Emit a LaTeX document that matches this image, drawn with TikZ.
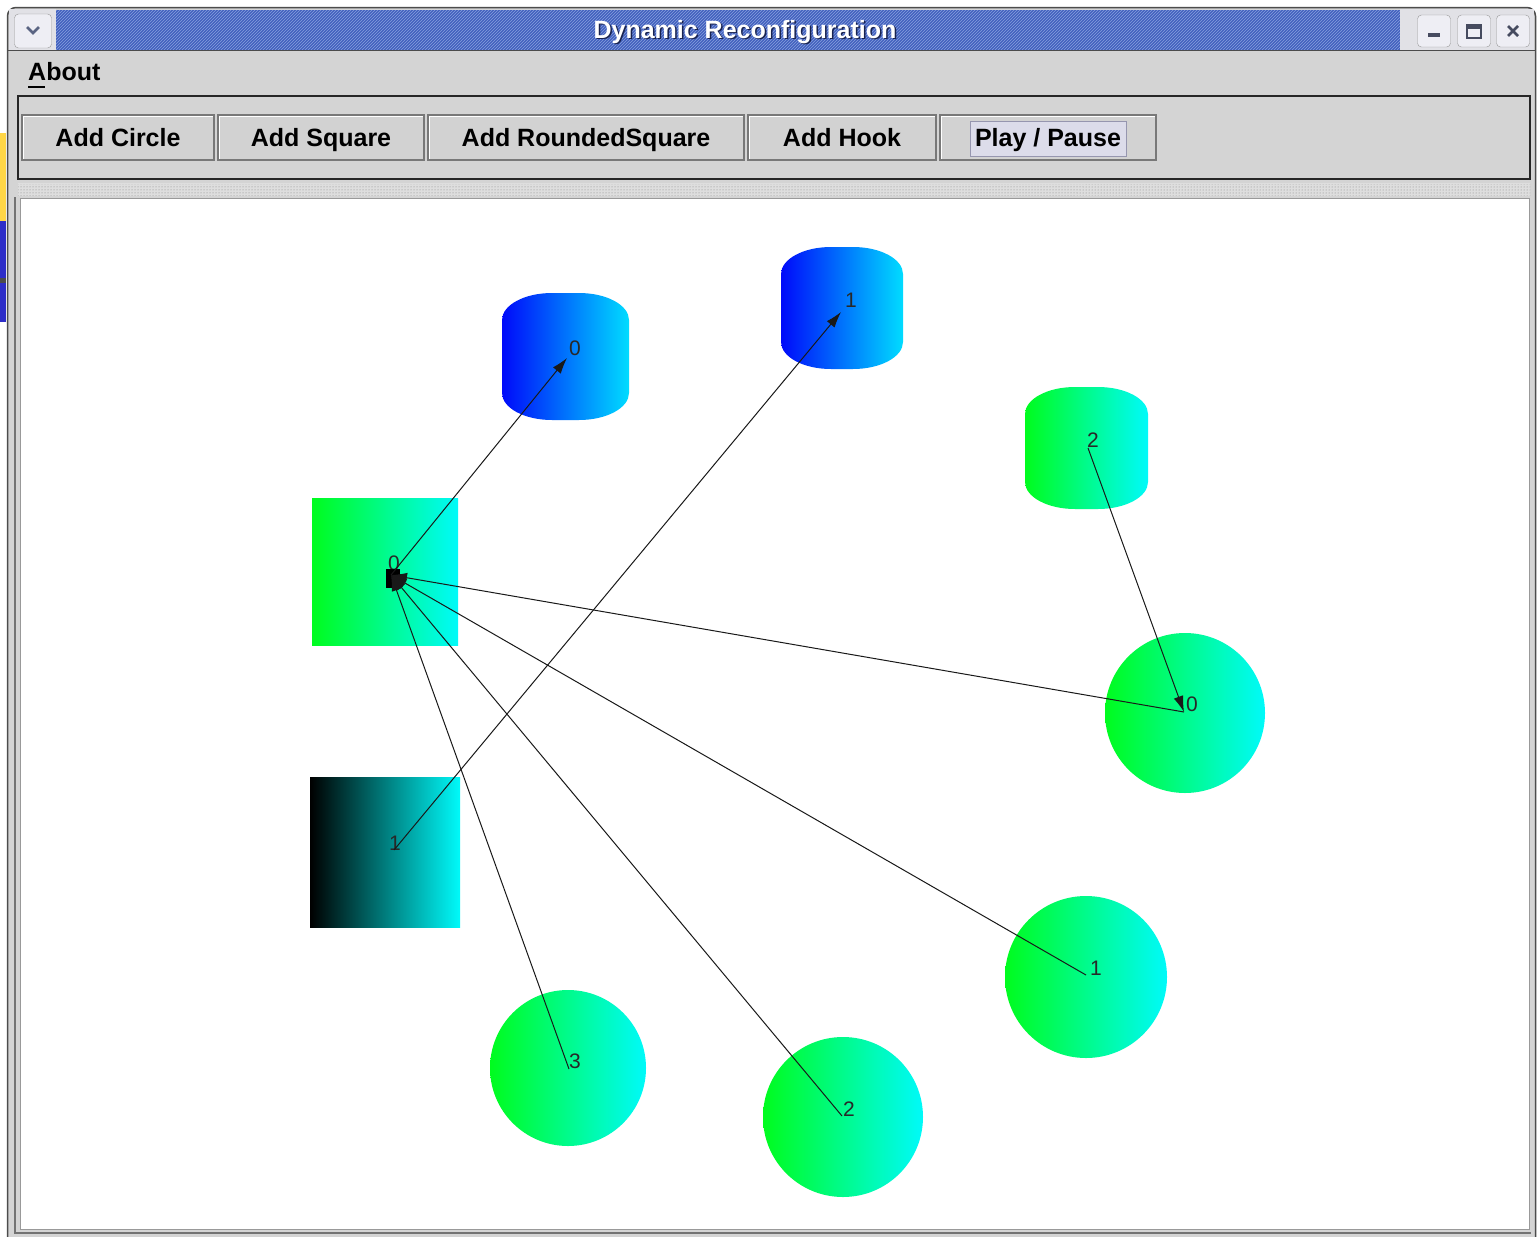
\documentclass[tikz,border=0pt]{standalone}
\usepackage{fontspec}
\setmainfont{Liberation Sans}
\usetikzlibrary{arrows.meta,patterns}
\definecolor{wingray}{RGB}{212,212,212}
\definecolor{titleblue}{RGB}{66,96,190}
\definecolor{titlestripe}{RGB}{135,160,222}
\definecolor{titleshadow}{RGB}{25,35,80}
\definecolor{btnfill}{RGB}{210,210,210}
\definecolor{btnline}{RGB}{120,120,120}
\definecolor{focusfill}{RGB}{220,220,234}
\definecolor{focusline}{RGB}{150,150,175}
\definecolor{sepfill}{RGB}{222,222,222}
\definecolor{tbgray}{RGB}{225,225,230}
\definecolor{tbbtn}{RGB}{238,238,244}
\definecolor{tbicon}{RGB}{70,75,95}
\definecolor{chev}{RGB}{90,100,130}
\definecolor{stripY}{RGB}{255,214,70}
\definecolor{stripB}{RGB}{45,45,200}
\definecolor{gA}{RGB}{0,252,30}
\definecolor{gB}{RGB}{0,250,250}
\definecolor{bA}{RGB}{0,10,250}
\definecolor{bB}{RGB}{0,220,255}
\definecolor{lblcol}{RGB}{40,40,40}
% x0 y0 x1 y1 ; rx=50, ry=27
\newcommand\rsqpath[4]{({#1+50},#2) -- ({#3-50},#2) .. controls ({#3-22.4},#2) and (#3,{#2+12.1}) .. (#3,{#2+27}) -- (#3,{#4-27}) .. controls (#3,{#4-12.1}) and ({#3-22.4},#4) .. ({#3-50},#4) -- ({#1+50},#4) .. controls ({#1+22.4},#4) and (#1,{#4-12.1}) .. (#1,{#4-27}) -- (#1,{#2+27}) .. controls (#1,{#2+12.1}) and ({#1+22.4},#2) .. ({#1+50},#2) -- cycle}
\tikzset{
  btn/.style={draw=btnline, fill=btnfill, line width=1.2pt, minimum height=45pt, inner sep=0pt,
    font=\fontsize{25}{30}\selectfont\bfseries, text=black, text height=18pt, text depth=5pt},
  tbbutton/.style={draw=black!40, fill=tbbtn, rounded corners=4pt, minimum width=33pt, minimum height=32pt, inner sep=0pt},
  lbl/.style={font=\fontsize{21}{24}\selectfont, text=lblcol, inner sep=0pt},
  conn/.style={draw=black!90, line width=1pt, -{Latex[length=16pt,width=10pt]}},
  greenfill/.style={left color=gA, right color=gB},
  bluefill/.style={left color=bA, right color=bB},
  darkfill/.style={left color=black, right color=gB},
}
\begin{document}
\begin{tikzpicture}[x=1pt,y=-1pt]
\useasboundingbox (0,0) rectangle (1537,1237);
\fill[white] (0,0) rectangle (1537,1237);
% stray strips at left edge
\fill[stripY] (0,133) rectangle (6,221);
\fill[stripB] (0,221) rectangle (6,322);
\fill[black!70] (0,278) rectangle (6,283);
% window body
\fill[wingray] (8,1237) -- (8,16) arc[start angle=180,end angle=270,radius=8] -- (1527,8) arc[start angle=270,end angle=360,radius=8] -- (1535,1237) -- cycle;
\draw[black!70, line width=1.5pt] (7.5,1237) -- (7.5,16) arc[start angle=180,end angle=270,radius=8.5] -- (1527,7.5) arc[start angle=270,end angle=360,radius=8.5] -- (1535.5,1237);
% title bar
\fill[titleblue] (56,10) rectangle (1400,50);
\fill[pattern=north east lines, pattern color=titlestripe] (56,10) rectangle (1400,50);
\fill[tbgray] (9,9) rectangle (56,50);
\fill[tbgray] (1400,9) rectangle (1534,50);
\draw[black!70, line width=1.5pt] (8,50.5) -- (1535,50.5);
% title bar buttons
\node[tbbutton, minimum width=37pt, minimum height=34pt] (menuBtn) at (33,31) {};
\draw[chev, line width=2.5pt] (27,27) -- (33,33) -- (39,27);
\node[tbbutton] (minBtn) at (1434,31) {};
\node[tbbutton] (maxBtn) at (1474,31) {};
\node[tbbutton] (closeBtn) at (1513,31) {};
\fill[tbicon] (1428,33) rectangle (1440,37);
\draw[tbicon, line width=1.5pt] (1467,25) rectangle (1481,38);
\fill[tbicon] (1467,25) rectangle (1481,29);
\draw[tbicon, line width=2.8pt] (1508,26) -- (1518,36) (1508,36) -- (1518,26);
% title text
\node[font=\fontsize{25}{30}\selectfont\bfseries, text=titleshadow] at (746.5,33.5) {Dynamic Reconfiguration};
\node[font=\fontsize{25}{30}\selectfont\bfseries, text=white] (title) at (745,32) {Dynamic Reconfiguration};
% menu
\node[font=\fontsize{25}{30}\selectfont\bfseries, anchor=west, inner sep=0pt] (about) at (28,72) {About};
\draw[black, line width=1.5pt] (28,87) -- (45,87);
% toolbar
\draw[black!85, line width=2.5pt, fill=wingray] (18,96) rectangle (1530,179);
\node[btn, minimum width=192pt] (bCircle) at (118,137.5) {};
\node[btn, minimum width=206pt] (bSquare) at (321,137.5) {};
\node[btn, minimum width=316pt] (bRound) at (586,137.5) {};
\node[btn, minimum width=188pt] (bHook) at (842,137.5) {};
\node[btn, minimum width=216pt] (bPlay) at (1048,137.5) {};
\foreach \n in {bCircle,bSquare,bRound,bHook,bPlay}{
  \draw[white, line width=1pt] ([shift={(2,2)}]\n.north west) -- ([shift={(2,-2)}]\n.south west);
  \draw[white, line width=1pt] ([shift={(2,2)}]\n.north west) -- ([shift={(-2,2)}]\n.north east);
}
\draw[focusline, fill=focusfill] (970,121) rectangle (1126,156);
\node[btn, draw=none, fill=none] at (118,140) {Add Circle};
\node[btn, draw=none, fill=none] at (321,140) {Add Square};
\node[btn, draw=none, fill=none] at (586,140) {Add RoundedSquare};
\node[btn, draw=none, fill=none] at (842,140) {Add Hook};
\node[btn, draw=none, fill=none] at (1048,140) {Play / Pause};
% separator strip
\fill[sepfill] (18,183) rectangle (1530,196);
\fill[pattern=dots, pattern color=black!50] (18,184) rectangle (1530,195);
% canvas
\draw[black!55, line width=1.5pt] (15,197) -- (15,1233) -- (1531,1233);
\fill[white] (20,198) rectangle (1529,1229);
\draw[black!40, line width=1pt] (20,198) rectangle (1529,1229);
% shapes
\shade[bluefill] \rsqpath{502}{293}{629}{420};
\shade[bluefill] \rsqpath{781}{247}{903}{369};
\shade[greenfill] \rsqpath{1025}{387}{1148}{509};
\shade[greenfill] (312,498) rectangle (458,645);
\shade[darkfill] (310,777) rectangle (460,927);
\shade[greenfill] (1185,713) circle[radius=80];
\shade[greenfill] (1086,977) circle[radius=81];
\shade[greenfill] (843,1117) circle[radius=80];
\shade[greenfill] (568,1068) circle[radius=78];
% labels
\node[lbl] (lRS0) at (575,348) {0};
\node[lbl] (lRS1) at (851,300) {1};
\node[lbl] (lRS2) at (1093,440) {2};
\node[lbl] (lSq0) at (394,563) {0};
\node[lbl] (lSq1) at (395,843) {1};
\node[lbl] (lC0) at (1192,704) {0};
\node[lbl] (lC1) at (1096,968) {1};
\node[lbl] (lC2) at (849,1109) {2};
\node[lbl] (lC3) at (575,1061) {3};
% hook points
\coordinate (hS0) at (391,575);
\coordinate (hS1) at (394,850);
\coordinate (pRS0) at (567,358);
\coordinate (pRS1) at (841,312);
\coordinate (pRS2) at (1088,448);
\coordinate (pC0) at (1184,712);
\coordinate (pC1) at (1086,975);
\coordinate (pC2) at (842,1116);
\coordinate (pC3) at (569,1069);
% connectors
\fill[black] (386,569) rectangle (400,588);
\draw[conn] (hS0) -- (pRS0);
\draw[conn] (hS1) -- (pRS1);
\draw[conn] (pRS2) -- (pC0);
\draw[conn] (pC0) -- (hS0);
\draw[conn] (pC1) -- (hS0);
\draw[conn] (pC2) -- (hS0);
\draw[conn] (pC3) -- (hS0);
\end{tikzpicture}
\end{document}
